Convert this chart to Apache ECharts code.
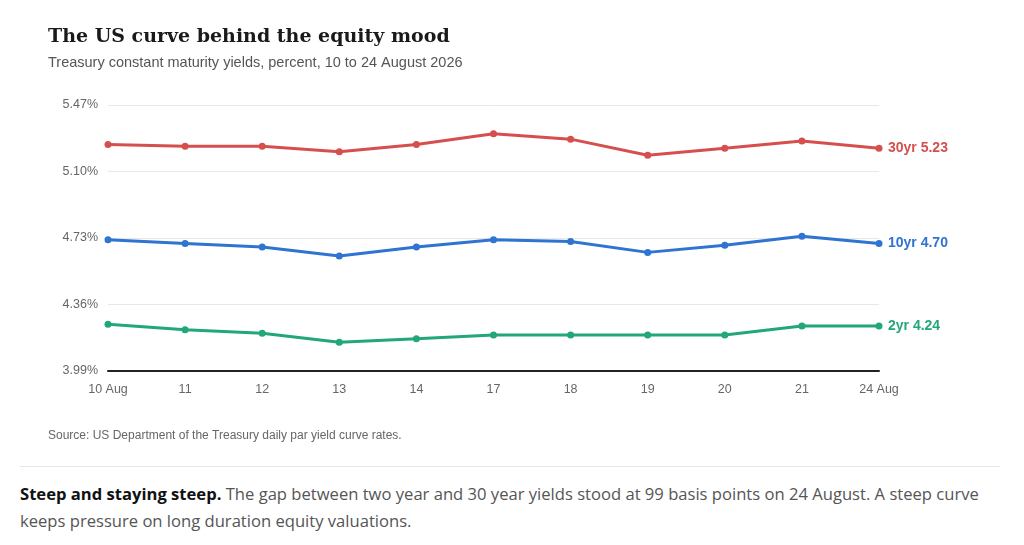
<!DOCTYPE html>
<html>
<head>
<meta charset="utf-8">
<script src="https://cdn.jsdelivr.net/npm/echarts@6/dist/echarts.min.js"></script>
<style>
  html, body { margin: 0; padding: 0; background: #fff; }
  #main { width: 1024px; height: 460px; }
  .rule { position: absolute; left: 20px; top: 466px; width: 980px; height: 0; border-top: 1px solid #e6e6e6; }
  .note { position: absolute; left: 20px; top: 480px; width: 990px; margin: 0;
          font-family: 'Open Sans', 'Noto Sans', sans-serif; font-size: 16.6px; line-height: 27px; color: #555; }
  .note b { color: #111; font-weight: 700; }
</style>
</head>
<body>
<div id="main"></div>
<div class="rule"></div>
<p class="note"><b>Steep and staying steep.</b> The gap between two year and 30 year yields stood at 99 basis points on 24 August. A steep curve keeps pressure on long duration equity valuations.</p>
<script>
const days = ['10 Aug', '11', '12', '13', '14', '17', '18', '19', '20', '21', '24 Aug'];
const yield30 = [5.25, 5.24, 5.24, 5.21, 5.25, 5.31, 5.28, 5.19, 5.23, 5.27, 5.23];
const yield10 = [4.72, 4.70, 4.68, 4.63, 4.68, 4.72, 4.71, 4.65, 4.69, 4.74, 4.70];
const yield2 = [4.25, 4.22, 4.20, 4.15, 4.17, 4.19, 4.19, 4.19, 4.19, 4.24, 4.24];
const yMin = 3.99, yMax = 5.47, yStep = 0.37;

const chart = echarts.init(document.getElementById('main'));

function line(name, data, color) {
  return {
    name: name,
    type: 'line',
    data: data,
    symbol: 'circle',
    symbolSize: 7,
    lineStyle: { color: color, width: 3 },
    itemStyle: { color: color },
    endLabel: {
      show: true,
      distance: 9,
      color: color,
      fontSize: 14,
      fontWeight: 'bold',
      fontFamily: 'Liberation Sans, Arial, sans-serif',
      formatter: p => name + ' ' + p.value.toFixed(2)
    }
  };
}

chart.setOption({
  animation: false,
  title: {
    text: 'The US curve behind the equity mood',
    subtext: 'Treasury constant maturity yields, percent, 10 to 24 August 2026',
    left: 43,
    top: 23,
    itemGap: 8,
    textStyle: { fontFamily: 'DejaVu Serif, Georgia, serif', fontSize: 19, fontWeight: 'bold', color: '#1a1a1a' },
    subtextStyle: { fontFamily: 'Liberation Sans, Arial, sans-serif', fontSize: 14.5, color: '#555' }
  },
  graphic: [{
    type: 'text',
    left: 48,
    top: 430,
    style: {
      text: 'Source: US Department of the Treasury daily par yield curve rates.',
      fontFamily: 'Liberation Sans, Arial, sans-serif',
      fontSize: 12,
      fill: '#666'
    }
  }],
  grid: { left: 108, right: 145, top: 105, bottom: 89 },
  xAxis: {
    type: 'category',
    data: days,
    boundaryGap: false,
    axisLine: { lineStyle: { color: '#222', width: 2 } },
    axisTick: { show: false },
    axisLabel: { color: '#666', fontSize: 12.5, margin: 12, fontFamily: 'Liberation Sans, Arial, sans-serif' }
  },
  yAxis: {
    type: 'value',
    min: yMin,
    max: yMax,
    interval: yStep,
    axisLine: { show: false },
    axisTick: { show: false },
    splitLine: { lineStyle: { color: '#e8e8e8', width: 1 } },
    axisLabel: {
      color: '#666', fontSize: 12.5, margin: 10,
      fontFamily: 'Liberation Sans, Arial, sans-serif',
      formatter: v => v.toFixed(2) + '%'
    }
  },
  series: [
    line('30yr', yield30, '#d64f4f'),
    line('10yr', yield10, '#2f74d0'),
    line('2yr', yield2, '#22a77a')
  ]
});
</script>
</body>
</html>
